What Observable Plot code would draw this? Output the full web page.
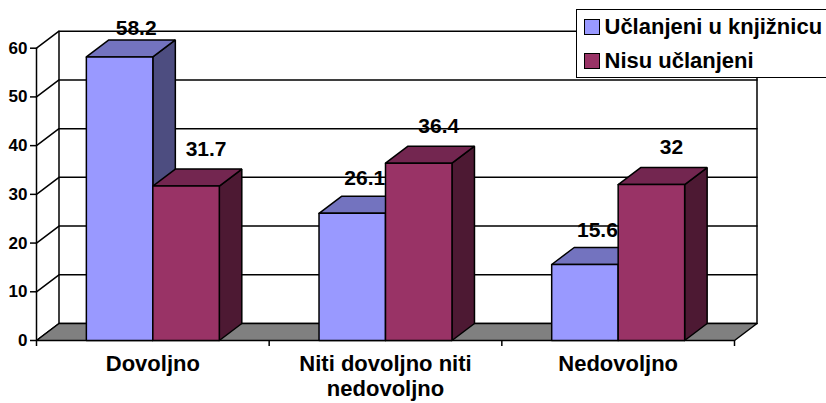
<!DOCTYPE html>
<html>
<head>
<meta charset="utf-8">
<script src="https://cdn.jsdelivr.net/npm/d3@7"></script>
<script src="https://cdn.jsdelivr.net/npm/@observablehq/plot@0.6"></script>
<style>
html,body{margin:0;padding:0;background:#fff;width:826px;height:403px;overflow:hidden}
#wrap{position:relative;width:826px;height:403px;font-family:"Liberation Sans",Arial,sans-serif}
#legend{position:absolute;left:576px;top:9px;width:260px;height:67px;background:#fff;border:1.5px solid #000;box-sizing:content-box}
.row{position:absolute;left:7px;display:flex;align-items:center;font-weight:bold;font-size:22px;color:#000;white-space:nowrap}
.sw{width:14px;height:14px;border:1.5px solid #000;margin-right:4.5px;flex:none}
svg{display:block}
</style>
</head>
<body>
<div id="wrap"></div>
<script>
const categories = ["Dovoljno", "Niti dovoljno niti\nnedovoljno", "Nedovoljno"];
const seriesNames = ["Učlanjeni u knjižnicu", "Nisu učlanjeni"];
const members = [58.2, 26.1, 15.6];
const nonMembers = [31.7, 36.4, 32];
const yTicks = [0, 10, 20, 30, 40, 50, 60];
const xTicks = [0, 1, 2, 3];
const frontColors = ["#9999FF", "#993366"];
const topColors = ["#7373BF", "#732650"];
const sideColors = ["#4D4D80", "#4D1933"];

// 3-D projection, expressed in data units
const depthX = 0.0967, depthY = 3.49, barW = 1 / 3.5, gapW = (1 - 2 * barW) / 2;
const SW = 1.5;
const poly = (pts, fill, stroke = "#000") =>
  Plot.line([...pts, pts[0]].map(([x, y]) => ({x, y})), {x: "x", y: "y", fill, stroke, strokeWidth: SW, strokeLinejoin: "miter"});
const seg = (pts) =>
  Plot.line(pts.map(([x, y]) => ({x, y})), {x: "x", y: "y", stroke: "#000", strokeWidth: SW});

const marks = [];
// walls
marks.push(seg([[0, 0], [0, 60]]));
marks.push(seg([[depthX, depthY], [depthX, 60 + depthY]]));
marks.push(seg([[3 + depthX, depthY], [3 + depthX, 60 + depthY]]));
// gridlines
for (const t of yTicks) {
  marks.push(seg([[0, t], [depthX, t + depthY], [3 + depthX, t + depthY]]));
}
// floor
marks.push(poly([[0, 0], [3, 0], [3 + depthX, depthY], [depthX, depthY]], "#808080"));
// bars
[members, nonMembers].forEach((vals, s) => {
  vals.forEach((v, g) => {
    const x0 = g + gapW + s * barW, x1 = x0 + barW;
    marks.push(poly([[x1, 0], [x1 + depthX, depthY], [x1 + depthX, v + depthY], [x1, v]], sideColors[s]));
    marks.push(poly([[x0, v], [x1, v], [x1 + depthX, v + depthY], [x0 + depthX, v + depthY]], topColors[s]));
    marks.push(poly([[x0, 0], [x1, 0], [x1, v], [x0, v]], frontColors[s]));
  });
});
// value labels
const lab = {fontWeight: "bold", fontSize: 21, fill: "#000", lineAnchor: "bottom", textAnchor: "middle"};
const tallLabels = members.map((v, g) => ({v, g})).filter(d => d.v > 50);
const otherLabels = members.map((v, g) => ({v, g})).filter(d => d.v <= 50);
marks.push(Plot.text(tallLabels, {...lab, x: d => d.g + gapW + barW / 2, y: "v", text: d => String(d.v), dx: 16.6, dy: -22}));
marks.push(Plot.text(otherLabels, {...lab, x: d => d.g + gapW + barW / 2, y: "v", text: d => String(d.v), dx: 12.5, dy: -28}));
marks.push(Plot.text(nonMembers.map((v, g) => ({v, g})), {...lab, x: d => d.g + gapW + barW * 1.5, y: "v", text: d => String(d.v), dx: 20, dy: -30.5}));
// category labels
marks.push(Plot.text(categories.map((c, g) => ({c, g})), {x: d => d.g + 0.5, y: 0, text: "c", fontWeight: "bold", fontSize: 22, fill: "#000", lineAnchor: "top", dy: 12, lineHeight: 1.16}));
// axes
marks.push(Plot.axisY({ticks: yTicks, tickSize: 6, tickPadding: 3, fontWeight: "bold", fontSize: 17, color: "#000", stroke: "#000", strokeWidth: SW, strokeOpacity: 1, label: null, marginLeft: 36}));
marks.push(Plot.axisX({ticks: xTicks, tickSize: 6, tickFormat: () => "", stroke: "#000", strokeWidth: SW, strokeOpacity: 1, label: null}));

const chart = Plot.plot({
  width: 826, height: 403,
  marginLeft: 36, marginRight: 92, marginTop: 47.7, marginBottom: 63,
  style: {fontFamily: '"Liberation Sans", Arial, sans-serif', background: "#fff", overflow: "visible"},
  x: {type: "linear", domain: [0, 3]},
  y: {type: "linear", domain: [0, 60]},
  marks
});
const wrap = document.getElementById("wrap");
wrap.appendChild(chart);

const legend = document.createElement("div");
legend.id = "legend";
seriesNames.forEach((name, i) => {
  const row = document.createElement("div");
  row.className = "row";
  row.style.top = (i === 0 ? 4 : 38) + "px";
  const sw = document.createElement("span");
  sw.className = "sw";
  sw.style.background = frontColors[i];
  const t = document.createElement("span");
  t.textContent = name;
  row.append(sw, t);
  legend.appendChild(row);
});
wrap.appendChild(legend);
</script>
</body>
</html>
